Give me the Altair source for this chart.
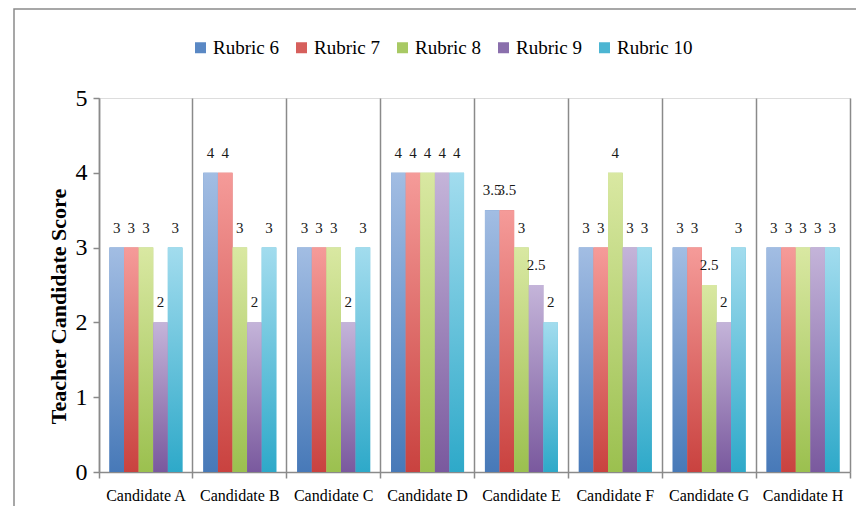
import altair as alt
import pandas as pd

candidates = ["Candidate A", "Candidate B", "Candidate C", "Candidate D",
              "Candidate E", "Candidate F", "Candidate G", "Candidate H"]
rubrics = ["Rubric 6", "Rubric 7", "Rubric 8", "Rubric 9", "Rubric 10"]
rubric6 = [3, 4, 3, 4, 3.5, 3, 3, 3]
rubric7 = [3, 4, 3, 4, 3.5, 3, 3, 3]
rubric8 = [3, 3, 3, 4, 3, 4, 2.5, 3]
rubric9 = [2, 2, 2, 4, 2.5, 3, 2, 3]
rubric10 = [3, 3, 3, 4, 2, 3, 3, 3]
y_ticks = [0, 1, 2, 3, 4, 5]

solid = ["#5a88c4", "#d65f5c", "#a8c964", "#8a6fac", "#4cb5d2"]
tops = ["#a2bde3", "#f59b99", "#d9e8a2", "#c4b4d9", "#a2dcee"]
bottoms = ["#4779b8", "#c9423f", "#9bc04f", "#7a599e", "#2ea9c9"]

series = [rubric6, rubric7, rubric8, rubric9, rubric10]
rows = []
for r, vals in zip(rubrics, series):
    for c, v in zip(candidates, vals):
        rows.append({"candidate": c, "rubric": r, "score": v})
df = pd.DataFrame(rows)

FONT = "Liberation Serif"
W, H = 751, 374

x_enc = alt.X("candidate:N", sort=candidates,
              scale=alt.Scale(domain=candidates, paddingInner=0, paddingOuter=0),
              axis=alt.Axis(title=None, bandPosition=1, tickExtra=True, grid=True,
                            gridColor="#8a8a8a", gridWidth=1.5,
                            domainColor="#8a8a8a", domainWidth=1.5,
                            tickColor="#8a8a8a", tickWidth=1.5, tickSize=6,
                            labelFont=FONT, labelFontSize=16, labelColor="#000000",
                            labelPadding=9, labelAngle=0))
xo_enc = alt.XOffset("rubric:N", sort=rubrics,
                     scale=alt.Scale(domain=rubrics, paddingInner=0, paddingOuter=0.715))
y_enc = alt.Y("score:Q",
              scale=alt.Scale(domain=[0, 5], nice=False),
              axis=alt.Axis(title="Teacher Candidate Score", values=y_ticks, grid=False,
                            domainColor="#8a8a8a", domainWidth=1.5,
                            tickColor="#8a8a8a", tickWidth=1.5, tickSize=6,
                            labelFont=FONT, labelFontSize=24, labelColor="#000000",
                            labelPadding=6,
                            titleFont=FONT, titleFontSize=22, titleFontWeight="bold",
                            titleColor="#000000", titleAngle=-90,
                            titleX=-41, titleY=208, titleAlign="center",
                            titleBaseline="middle"))

base = alt.Chart(df)

legend_layer = base.mark_bar().encode(
    x=x_enc, xOffset=xo_enc, y=y_enc,
    color=alt.Color("rubric:N", sort=rubrics,
                    scale=alt.Scale(domain=rubrics, range=solid),
                    legend=alt.Legend(title=None, orient="none", direction="horizontal",
                                      legendX=92, legendY=-60,
                                      symbolType="square", symbolSize=121,
                                      symbolStrokeWidth=0,
                                      labelFont=FONT, labelFontSize=19,
                                      labelColor="#000000", labelOffset=3,
                                      columnPadding=13)),
)

layers = [legend_layer]
for r, t, b in zip(rubrics, tops, bottoms):
    grad = alt.Gradient(gradient="linear",
                        stops=[alt.GradientStop(color=t, offset=0),
                               alt.GradientStop(color=b, offset=1)],
                        x1=0, x2=0, y1=0, y2=1)
    layers.append(
        base.transform_filter(alt.datum.rubric == r)
        .mark_bar(color=grad)
        .encode(x=x_enc, xOffset=xo_enc, y=y_enc)
    )

labels = base.mark_text(font=FONT, fontSize=15, color="#1a1a1a",
                        baseline="middle", dy=-20).encode(
    x=x_enc, xOffset=xo_enc, y=y_enc,
    text=alt.Text("score:Q", format="~g"),
)
layers.append(labels)

frame = alt.Chart(pd.DataFrame({"a": [0]})).mark_rect(
    fill="transparent", stroke="#8a8a8a", strokeWidth=1.5
).encode(x=alt.value(-85), x2=alt.value(1200), y=alt.value(-89), y2=alt.value(1200))
layers.append(frame)

chart = alt.layer(*layers).properties(
    width=W, height=H,
    autosize=alt.AutoSizeParams(type="none"),
    padding={"left": 91, "top": 90, "right": 6, "bottom": 34},
).configure_view(stroke=None).configure(
    background="#ffffff", font=FONT
).configure_axis(labelFont=FONT, titleFont=FONT).configure_legend(
    labelFont=FONT
).configure_text(font=FONT)

chart.save("out.html", embed_options={"renderer": "svg", "actions": False})
